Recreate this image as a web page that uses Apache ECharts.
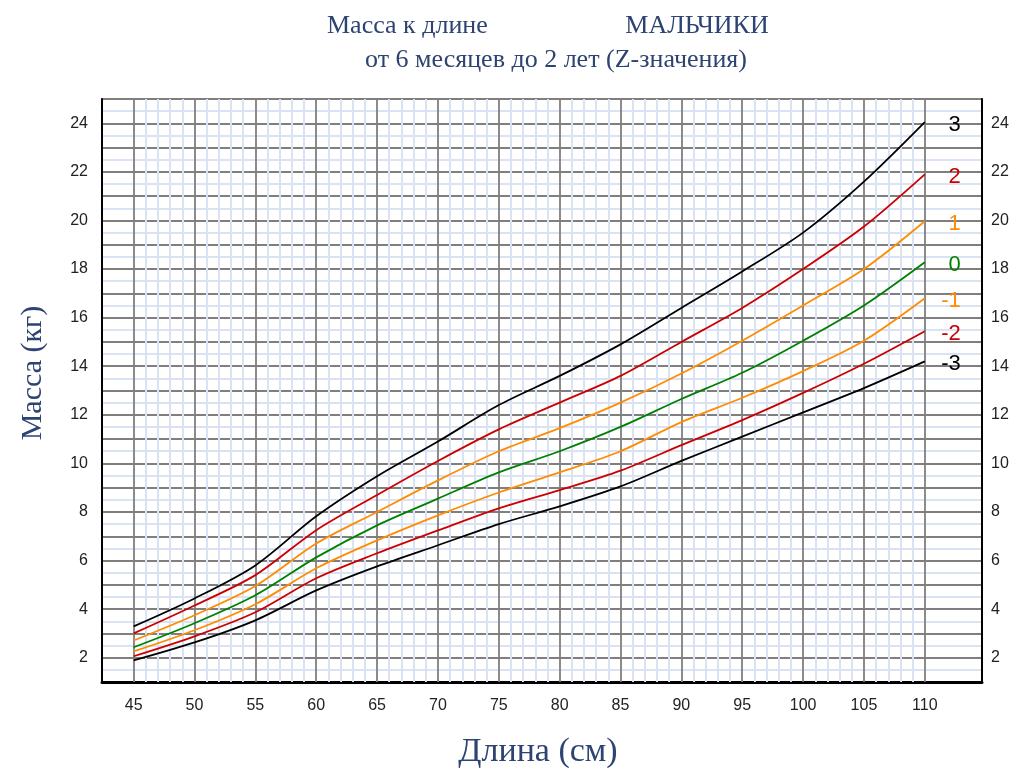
<!DOCTYPE html>
<html>
<head>
<meta charset="utf-8">
<script src="https://cdn.jsdelivr.net/npm/echarts@6/dist/echarts.min.js"></script>
<style>html,body{margin:0;padding:0;background:#fff}#c{width:1016px;height:773px}</style>
</head>
<body>
<div id="c"></div>
<script>
// Length (cm)
const lengths = [45, 50, 55, 60, 65, 70, 75, 80, 85, 90, 95, 100, 105, 110];
// Weight (kg) per z-score curve
const zPlus3  = [3.29, 4.44, 5.80, 7.82, 9.47, 10.9, 12.4, 13.6, 14.9, 16.4, 17.9, 19.5, 21.6, 24.05];
const zPlus2  = [3.00, 4.15, 5.40, 7.25, 8.70, 10.1, 11.4, 12.5, 13.6, 15.0, 16.4, 18.0, 19.75, 21.9];
const zPlus1  = [2.71, 3.75, 4.95, 6.70, 8.00, 9.30, 10.5, 11.45, 12.5, 13.7, 15.05, 16.5, 18.0, 19.97];
const zZero   = [2.43, 3.42, 4.57, 6.13, 7.45, 8.55, 9.63, 10.5, 11.5, 12.65, 13.73, 15.05, 16.5, 18.28];
const zMinus1 = [2.26, 3.13, 4.20, 5.68, 6.83, 7.86, 8.80, 9.63, 10.5, 11.7, 12.7, 13.8, 15.05, 16.8];
const zMinus2 = [2.06, 2.88, 3.87, 5.27, 6.30, 7.24, 8.15, 8.90, 9.70, 10.75, 11.78, 12.9, 14.1, 15.44];
const zMinus3 = [1.89, 2.63, 3.54, 4.77, 5.76, 6.63, 7.50, 8.23, 9.05, 10.1, 11.1, 12.1, 13.1, 14.2];
const zNames = ['3', '2', '1', '0', '-1', '-2', '-3'];
// Axis ticks
const xLabelValues = [45, 50, 55, 60, 65, 70, 75, 80, 85, 90, 95, 100, 105, 110];
const xMinorValues = [45,46,47,48,49,50,51,52,53,54,55,56,57,58,59,60,61,62,63,64,65,66,67,68,69,70,71,72,73,74,75,76,77,78,79,80,81,82,83,84,85,86,87,88,89,90,91,92,93,94,95,96,97,98,99,100,101,102,103,104,105,106,107,108,109,110];
const yLabelValues = [2, 4, 6, 8, 10, 12, 14, 16, 18, 20, 22, 24];

const curves = [zPlus3, zPlus2, zPlus1, zZero, zMinus1, zMinus2, zMinus3];
const colors = ['#000000', '#cc0000', '#ff8c00', '#008000', '#ff8c00', '#cc0000', '#000000'];

const chart = echarts.init(document.getElementById('c'), null, {renderer: 'canvas'});

const minorLines = xMinorValues.filter(v => v % 5 !== 0).map(v => ({xAxis: v, lineStyle: {color: '#d9e3f4', width: 2, type: 'solid'}}));
const majorLines = xLabelValues.map(v => ({xAxis: v, lineStyle: {color: '#7f7f7f', width: 1.8, type: 'solid'}}));

const yLabelFmt = v => (yLabelValues.indexOf(v) >= 0 ? String(v) : '');

const series = [{
  type: 'line',
  data: [],
  z: -1,
  silent: true,
  markLine: {
    silent: true,
    symbol: 'none',
    label: {show: false},
    animation: false,
    data: minorLines.concat(majorLines)
  }
}];

curves.forEach((vals, i) => {
  series.push({
    type: 'line',
    name: zNames[i],
    z: 5,
    data: lengths.map((x, k) => [x, vals[k]]),
    smooth: 0.3,
    showSymbol: false,
    symbol: 'none',
    lineStyle: {color: colors[i], width: 1.8},
    itemStyle: {color: colors[i]},
    endLabel: {
      show: true,
      formatter: zNames[i],
      color: colors[i],
      fontSize: 22,
      fontFamily: 'Liberation Sans',
      align: 'right',
      verticalAlign: 'middle',
      offset: [28, 3]
    },
    animation: false
  });
});

const titleStyle = {fontFamily: 'Liberation Serif', fontSize: 26, fontWeight: 'normal', color: '#2d4371'};

chart.setOption({
  animation: false,
  backgroundColor: '#ffffff',
  title: [
    {text: 'Масса к длине', left: 322, top: 8, textStyle: titleStyle},
    {text: 'МАЛЬЧИКИ', left: 692, textAlign: 'center', top: 8, textStyle: titleStyle},
    {text: 'от 6 месяцев до 2 лет (Z-значения)', left: 551, textAlign: 'center', top: 42, textStyle: titleStyle}
  ],
  grid: {left: 102, right: 34, top: 99, bottom: 91, show: true, borderColor: '#9a9a9a', borderWidth: 2, backgroundColor: 'transparent'},
  xAxis: {
    type: 'value',
    min: 42.4,
    max: 114.7,
    splitLine: {show: false},
    minorSplitLine: {show: false},
    minorTick: {show: false},
    axisLine: {show: true, onZero: false, lineStyle: {color: '#000', width: 3}},
    axisTick: {show: false},
    axisLabel: {customValues: xLabelValues, color: '#222', fontSize: 16, fontFamily: 'Liberation Sans', margin: 16}
  },
  yAxis: [
    {
      type: 'value', min: 1, max: 25, interval: 1, position: 'left',
      axisLine: {show: true, lineStyle: {color: '#000', width: 2}},
      axisTick: {show: false},
      splitLine: {show: true, lineStyle: {color: '#7f7f7f', width: 1.8}},
      minorTick: {show: false, splitNumber: 2},
      minorSplitLine: {show: true, lineStyle: {color: '#d9e3f4', width: 2}},
      axisLabel: {formatter: yLabelFmt, color: '#222', fontSize: 16, fontFamily: 'Liberation Sans', margin: 14}
    },
    {
      type: 'value', min: 1, max: 25, interval: 1, position: 'right',
      axisLine: {show: true, lineStyle: {color: '#000', width: 2}},
      axisTick: {show: false},
      splitLine: {show: false},
      axisLabel: {formatter: yLabelFmt, color: '#222', fontSize: 16, fontFamily: 'Liberation Sans', margin: 9}
    }
  ],
  graphic: [
    {type: 'text', x: 33, y: 373, rotation: Math.PI / 2, style: {text: 'Масса (кг)', font: '30px "Liberation Serif"', fill: '#2d4371', textAlign: 'center', textVerticalAlign: 'middle'}},
    {type: 'text', x: 538, y: 752, style: {text: 'Длина (см)', font: '34px "Liberation Serif"', fill: '#2d4371', textAlign: 'center', textVerticalAlign: 'middle'}}
  ],
  series: series
});
</script>
</body>
</html>
